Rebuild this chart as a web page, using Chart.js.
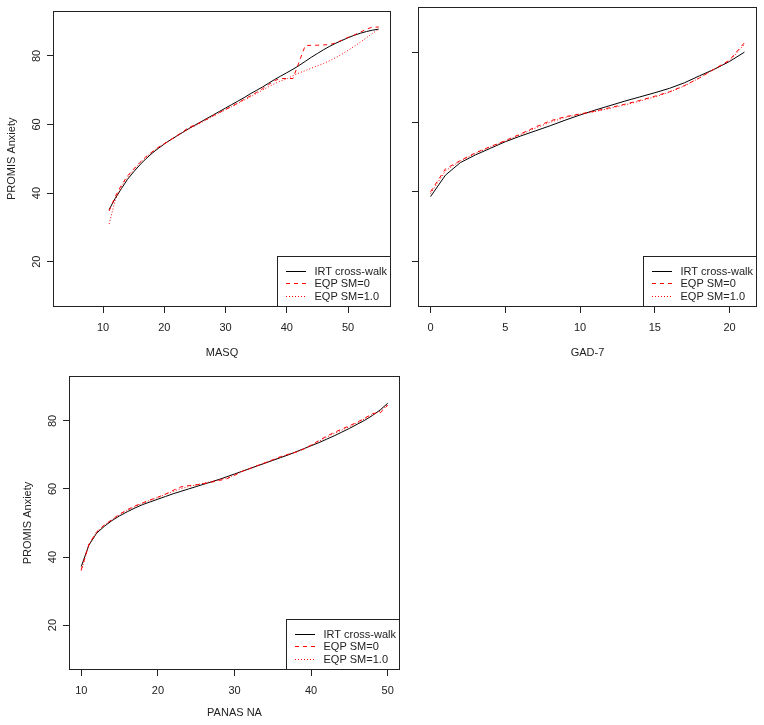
<!DOCTYPE html>
<html>
<head>
<meta charset="utf-8">
<title>PROMIS Anxiety cross-walks</title>
<script src="https://cdn.jsdelivr.net/npm/chart.js@4.4.1/dist/chart.umd.min.js"></script>
<style>
    body { margin: 0; background: #fff; width: 764px; height: 725px; overflow: hidden; }
    canvas { position: absolute; }
</style>
</head>
<body>
<canvas id="masqChart" width="400" height="365" style="left:0;top:0"></canvas>
<canvas id="gadChart" width="364" height="365" style="left:400px;top:0"></canvas>
<canvas id="panasChart" width="410" height="360" style="left:0;top:365px"></canvas>
<script>
// Shared labels / ticks
const legendLabels = ['IRT cross-walk', 'EQP SM=0', 'EQP SM=1.0'];
const lineColors = ['#000000', '#ff0000', '#ff0000'];
const yTicks = [20, 40, 60, 80];
const yTitle = 'PROMIS Anxiety';

// MASQ panel
const masqScores = [11, 12, 13, 14, 15, 16, 17, 18, 19, 20,
    21, 22, 23, 24, 25, 26, 27, 28, 29, 30,
    31, 32, 33, 34, 35, 36, 37, 38, 39, 40,
    41, 42, 43, 44, 45, 46, 47, 48, 49, 50,
    51, 52, 53, 54, 55];
const masqIrt = [35.2, 38.5, 41.3, 44.0, 46.2, 48.2, 50.0, 51.6, 53.0, 54.3,
    55.5, 56.6, 57.7, 58.8, 59.8, 60.8, 61.8, 62.8, 63.8, 64.8,
    65.8, 66.8, 67.8, 68.9, 69.9, 70.9, 72.0, 73.1, 74.1, 75.1,
    76.1, 77.2, 78.4, 79.6, 80.7, 81.8, 82.8, 83.7, 84.5, 85.3,
    86.0, 86.6, 87.1, 87.5, 87.8];
const masqEqp0 = [34.8, 39.0, 42.3, 45.0, 47.0, 48.9, 50.6, 52.0, 53.3, 54.4,
    55.5, 56.7, 57.8, 59.2, 59.8, 60.7, 61.6, 62.6, 63.5, 64.4,
    65.3, 66.3, 67.3, 68.3, 69.3, 70.4, 71.6, 72.8, 73.4, 73.4,
    73.4, 78.2, 83.0, 83.1, 83.1, 83.2, 83.3, 83.8, 84.6, 85.4,
    86.1, 86.9, 87.8, 88.4, 88.4];
const masqEqp1 = [31.0, 38.0, 41.8, 44.6, 46.8, 48.7, 50.4, 51.9, 53.2, 54.4,
    55.5, 56.6, 57.7, 58.7, 59.6, 60.5, 61.5, 62.4, 63.4, 64.3,
    65.2, 66.1, 67.1, 68.0, 69.0, 70.0, 71.0, 71.9, 72.7, 73.3,
    74.2, 75.0, 75.7, 76.4, 77.1, 77.8, 78.6, 79.5, 80.5, 81.6,
    82.8, 84.0, 85.3, 86.6, 87.8];
const masqTicks = [10, 20, 30, 40, 50];

// GAD-7 panel
const gadScores = [0, 1, 2, 3, 4, 5, 6, 7, 8, 9, 10, 11, 12, 13, 14, 15, 16, 17, 18, 19, 20, 21];
const gadIrt = [38.6, 44.8, 48.4, 50.6, 52.5, 54.4, 56.0, 57.5, 59.0, 60.6, 62.1,
    63.5, 64.8, 66.1, 67.3, 68.5, 69.8, 71.4, 73.4, 75.3, 77.5, 80.2];
const gadEqp0 = [40.0, 46.6, 49.0, 51.2, 53.0, 54.7, 56.6, 58.6, 60.4, 61.6, 62.4,
    63.2, 64.2, 65.2, 66.3, 67.5, 68.8, 70.6, 72.8, 75.4, 77.9, 82.9];
const gadEqp1 = [39.5, 46.0, 48.9, 51.0, 52.9, 54.6, 56.4, 58.3, 60.0, 61.4, 62.3,
    63.1, 64.0, 65.0, 66.1, 67.3, 68.7, 70.5, 72.8, 75.3, 77.6, 82.5];
const gadTicks = [0, 5, 10, 15, 20];

// PANAS NA panel
const panasScores = [10, 11, 12, 13, 14, 15, 16, 17, 18, 19,
    20, 21, 22, 23, 24, 25, 26, 27, 28, 29,
    30, 31, 32, 33, 34, 35, 36, 37, 38, 39,
    40, 41, 42, 43, 44, 45, 46, 47, 48, 49,
    50];
const panasIrt = [37.2, 43.5, 47.0, 49.0, 50.7, 52.1, 53.3, 54.4, 55.4, 56.2,
    57.0, 57.8, 58.6, 59.3, 60.0, 60.7, 61.4, 62.1, 62.8, 63.6,
    64.4, 65.2, 66.0, 66.8, 67.6, 68.4, 69.2, 70.0, 70.9, 71.8,
    72.7, 73.6, 74.6, 75.6, 76.7, 77.8, 79.0, 80.2, 81.6, 83.2,
    85.2];
const panasEqp0 = [36.2, 43.8, 47.4, 49.4, 51.0, 52.6, 53.9, 55.0, 55.9, 56.8,
    57.6, 58.5, 59.6, 60.6, 61.0, 61.2, 61.6, 62.0, 62.5, 63.0,
    64.0, 65.2, 66.0, 66.9, 67.7, 68.6, 69.5, 70.2, 70.8, 71.7,
    72.9, 74.2, 75.5, 76.6, 77.6, 78.6, 79.6, 80.8, 82.2, 82.3,
    84.6];
const panasEqp1 = [36.0, 43.6, 47.2, 49.3, 50.9, 52.4, 53.7, 54.8, 55.8, 56.7,
    57.5, 58.4, 59.3, 60.1, 60.7, 61.2, 61.7, 62.2, 62.7, 63.3,
    64.1, 65.1, 66.0, 66.8, 67.7, 68.5, 69.4, 70.1, 70.8, 71.7,
    72.8, 74.0, 75.2, 76.3, 77.3, 78.3, 79.4, 80.6, 81.9, 82.8,
    84.8];
const panasTicks = [10, 20, 30, 40, 50];

const FONT_FAMILY = "'Liberation Sans', Arial, sans-serif";
const FONT = { family: FONT_FAMILY, size: 11 };
const INK = '#222';
const DASHES = [[], [4, 4], [1, 2]];

function toPoints(xs, ys) {
    return xs.map((x, i) => ({ x: x, y: ys[i] }));
}

function buildDatasets(xs, irt, eqp0, eqp1) {
    // red EQP lines drawn on top of the black cross-walk
    return [irt, eqp0, eqp1].map((ys, i) => ({
        label: legendLabels[i],
        data: toPoints(xs, ys),
        borderColor: lineColors[i],
        borderWidth: 1,
        borderDash: DASHES[i],
        order: 2 - i
    }));
}

// box around plot region + R style legend in the bottom right corner
const frameLegend = {
    id: 'frameLegend',
    afterDatasetsDraw(chart) {
        const { ctx, chartArea: a } = chart;
        ctx.save();
        ctx.strokeStyle = INK;
        ctx.lineWidth = 1;
        const L = Math.round(a.left) + 0.5, T = Math.round(a.top) + 0.5;
        const R = Math.round(a.right) - 0.5, B = Math.round(a.bottom) - 0.5;
        ctx.strokeRect(L, T, R - L, B - T);

        ctx.font = '11px ' + FONT_FAMILY;
        const textW = Math.max(...legendLabels.map(t => ctx.measureText(t).width));
        const w = Math.round(37 + textW + 3);
        const h = 50;
        const lx = R - w, ly = B - h;
        ctx.fillStyle = '#fff';
        ctx.fillRect(lx, ly, w, h);
        ctx.strokeRect(lx, ly, w, h);

        legendLabels.forEach((label, i) => {
            const y = Math.round(ly + 14 + i * 12.5) + 0.5;
            ctx.strokeStyle = lineColors[i];
            ctx.setLineDash(DASHES[i]);
            ctx.beginPath();
            ctx.moveTo(Math.round(lx + 8), y);
            ctx.lineTo(Math.round(lx + 28), y);
            ctx.stroke();
            ctx.setLineDash([]);
            ctx.fillStyle = INK;
            ctx.textBaseline = 'middle';
            ctx.textAlign = 'left';
            ctx.fillText(label, lx + 37, y);
        });
        ctx.restore();
    }
};

function makeChart(canvasId, cfg) {
    return new Chart(document.getElementById(canvasId), {
        type: 'line',
        data: { datasets: buildDatasets(cfg.xs, cfg.irt, cfg.eqp0, cfg.eqp1) },
        options: {
            responsive: false,
            animation: false,
            layout: { padding: cfg.padding },
            elements: { point: { radius: 0 }, line: { tension: 0 } },
            plugins: { legend: { display: false }, tooltip: { enabled: false } },
            scales: {
                x: {
                    type: 'linear',
                    min: cfg.xMin,
                    max: cfg.xMax,
                    afterBuildTicks: s => { s.ticks = cfg.xTicks.map(v => ({ value: v })); },
                    afterFit: s => { s.height = cfg.xAxisHeight; },
                    grid: { drawOnChartArea: false, color: INK, tickLength: 6 },
                    border: { display: false },
                    ticks: { color: INK, font: FONT, padding: 8, autoSkip: false, maxRotation: 0 },
                    title: { display: true, text: cfg.xTitle, color: INK, font: FONT, padding: { top: 0, bottom: cfg.xTitlePad } }
                },
                y: {
                    type: 'linear',
                    min: 6.8,
                    max: 93.2,
                    afterBuildTicks: s => { s.ticks = yTicks.map(v => ({ value: v })); },
                    afterFit: s => { s.width = cfg.yAxisWidth; },
                    grid: { drawOnChartArea: false, color: INK, tickLength: 6 },
                    border: { display: false },
                    ticks: {
                        display: cfg.showY, color: INK, font: FONT, padding: 4,
                        autoSkip: false, minRotation: 90, maxRotation: 90, crossAlign: 'center'
                    },
                    title: { display: cfg.showY, text: yTitle, color: INK, font: FONT, padding: { top: cfg.yTitlePad, bottom: 0 } }
                }
            }
        },
        plugins: [frameLegend]
    });
}

makeChart('masqChart', {
    xs: masqScores, irt: masqIrt, eqp0: masqEqp0, eqp1: masqEqp1,
    xMin: 1.84, xMax: 57.0, xTicks: masqTicks, xTitle: 'MASQ',
    padding: { top: 7, right: 9, left: 0, bottom: 0 },
    xAxisHeight: 58, yAxisWidth: 53, xTitlePad: 5, yTitlePad: 5, showY: true
});

makeChart('gadChart', {
    xs: gadScores, irt: gadIrt, eqp0: gadEqp0, eqp1: gadEqp1,
    xMin: -0.84, xMax: 21.84, xTicks: gadTicks, xTitle: 'GAD-7',
    padding: { top: 7, right: 7, left: 0, bottom: 0 },
    xAxisHeight: 58, yAxisWidth: 18, xTitlePad: 5, yTitlePad: 0, showY: false
});

makeChart('panasChart', {
    xs: panasScores, irt: panasIrt, eqp0: panasEqp0, eqp1: panasEqp1,
    xMin: 8.4, xMax: 51.6, xTicks: panasTicks, xTitle: 'PANAS NA',
    padding: { top: 11, right: 10, left: 0, bottom: 0 },
    xAxisHeight: 55, yAxisWidth: 69, xTitlePad: 5, yTitlePad: 21, showY: true
});
</script>
</body>
</html>
